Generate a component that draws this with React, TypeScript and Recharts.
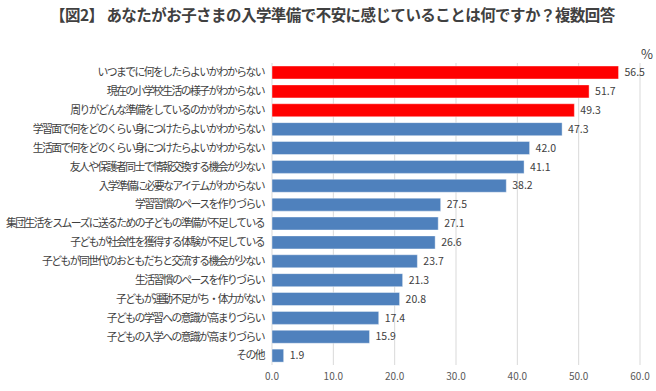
import { BarChart, Bar, XAxis, YAxis, CartesianGrid, LabelList, Cell } from 'recharts';

const categories = [
  'いつまでに何をしたらよいかわからない',
  '現在の小学校生活の様子がわからない',
  '周りがどんな準備をしているのかがわからない',
  '学習面で何をどのくらい身につけたらよいかわからない',
  '生活面で何をどのくらい身につけたらよいかわからない',
  '友人や保護者同士で情報交換する機会が少ない',
  '入学準備に必要なアイテムがわからない',
  '学習習慣のペースを作りづらい',
  '集団生活をスムーズに送るための子どもの準備が不足している',
  '子どもが社会性を獲得する体験が不足している',
  '子どもが同世代のおともだちと交流する機会が少ない',
  '生活習慣のペースを作りづらい',
  '子どもが運動不足がち・体力がない',
  '子どもの学習への意識が高まりづらい',
  '子どもの入学への意識が高まりづらい',
  'その他',
];

const values = [56.5, 51.7, 49.3, 47.3, 42.0, 41.1, 38.2, 27.5, 27.1, 26.6, 23.7, 21.3, 20.8, 17.4, 15.9, 1.9];

// top three answers are highlighted in red
const highlighted = [true, true, true, false, false, false, false, false, false, false, false, false, false, false, false, false];

const xTicks = [0, 10, 20, 30, 40, 50, 60];

const data = categories.map((name, i) => ({ name, value: values[i], hi: highlighted[i] }));

const font = '"Noto Sans CJK JP", "Noto Sans", sans-serif';

export default function App() {
  return (
    <div style={{ position: 'absolute', left: 0, top: 0, width: 656, height: 391, background: '#fff', fontFamily: font }}>
      <div
        style={{
          position: 'absolute',
          left: 50,
          top: 3,
          fontSize: 15.5,
          fontWeight: 'bold',
          color: '#404040',
          letterSpacing: -0.55,
          whiteSpace: 'nowrap',
        }}
      >
        【図2】 あなたがお子さまの入学準備で不安に感じていることは何ですか？複数回答
      </div>
      <div style={{ position: 'absolute', left: 641, top: 44, fontSize: 13, color: '#404040' }}>%</div>
      <BarChart
        width={656}
        height={391}
        data={data}
        layout="vertical"
        margin={{ top: 63, right: 16, bottom: 0, left: 0 }}
        barSize={13}
      >
        <CartesianGrid horizontal={false} stroke="#d9d9d9" />
        <XAxis
          type="number"
          domain={[0, 60]}
          ticks={xTicks}
          height={26}
          axisLine={false}
          tickLine={false}
          tick={{ fontSize: 10, fill: '#595959', fontFamily: font }}
          tickFormatter={(v: number) => v.toFixed(1)}
        />
        <YAxis
          type="category"
          dataKey="name"
          width={272}
          axisLine={false}
          tickLine={false}
          tickSize={0}
          tickMargin={8}
          interval={0}
          tick={{ fontSize: 10.8, fill: '#404040', fontFamily: font, letterSpacing: -1.55 }}
        />
        <Bar dataKey="value" isAnimationActive={false} stroke="#ffffff" strokeOpacity={0.4}>
          {data.map((d, i) => (
            <Cell key={i} fill={d.hi ? '#ff0000' : '#4f81bd'} />
          ))}
          <LabelList
            dataKey="value"
            position="right"
            offset={6}
            formatter={(v: number) => v.toFixed(1)}
            style={{ fontSize: 10.5, fill: '#404040', fontFamily: font }}
          />
        </Bar>
      </BarChart>
    </div>
  );
}
